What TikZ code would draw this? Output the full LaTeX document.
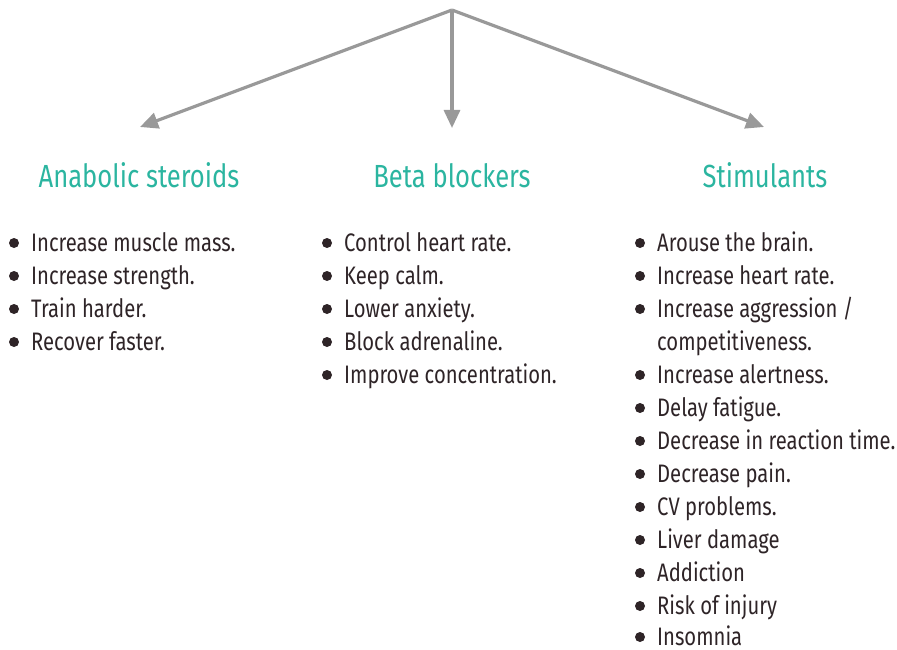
\documentclass[tikz,border=0pt]{standalone}
\usepackage{fontspec}
\setmainfont{Fira Sans}[FakeStretch=0.8]
\usetikzlibrary{arrows.meta}
\definecolor{teal1}{HTML}{2BB5A0}
\definecolor{ink}{HTML}{2E2427}
\definecolor{arrowgray}{HTML}{999999}
\tikzset{
  conn/.style={draw=arrowgray, line width=3.2pt, -{Triangle[length=18pt,width=16pt]}},
  head/.style={anchor=base, text=teal1, font=\fontsize{32}{36}\selectfont, inner sep=0pt},
  item/.style={anchor=base west, text=ink, font=\fontsize{25.3}{28}\selectfont, inner sep=0pt},
  dot/.style={fill=ink, circle, inner sep=0pt, minimum size=10pt}
}
\begin{document}
\begin{tikzpicture}[x=1pt,y=-1pt]
\useasboundingbox (0,0) rectangle (897,650);
\coordinate (top) at (452,10);
\coordinate (endA) at (140,127);
\coordinate (endB) at (452,128);
\coordinate (endC) at (764,127);
\draw[conn] (top) -- (endA);
\draw[conn] (top) -- (endB);
\draw[conn] (top) -- (endC);
\node[head] (hA) at (139,187) {Anabolic steroids};
\node[head] (hB) at (452,187) {Beta blockers};
\node[head] (hC) at (765,187) {Stimulants};
% column A
\foreach \t [count=\i] in {Increase muscle mass.,Increase strength.,Train harder.,Recover faster.}{
  \node[dot] (dA\i) at (14,{243+33*(\i-1)}) {};
  \node[item] (tA\i) at (31,{251+33*(\i-1)}) {\t};
}
% column B
\foreach \t [count=\i] in {Control heart rate.,Keep calm.,Lower anxiety.,Block adrenaline.,Improve concentration.}{
  \node[dot] (dB\i) at (327,{243+33*(\i-1)}) {};
  \node[item] (tB\i) at (344,{251+33*(\i-1)}) {\t};
}
% column C
\foreach \t/\y [count=\i] in {Arouse the brain./243,Increase heart rate./276,Increase aggression \slash/309,Increase alertness./375,Delay fatigue./408,Decrease in reaction time./441,Decrease pain./474,CV problems./507,Liver damage/540,Addiction/573,Risk of injury/606,Insomnia/637}{
  \node[dot] (dC\i) at (640,\y) {};
  \node[item] (tC\i) at (657,\y+8) {\t};
}
\node[item] (tC3b) at (657,350) {competitiveness.};
\end{tikzpicture}
\end{document}
